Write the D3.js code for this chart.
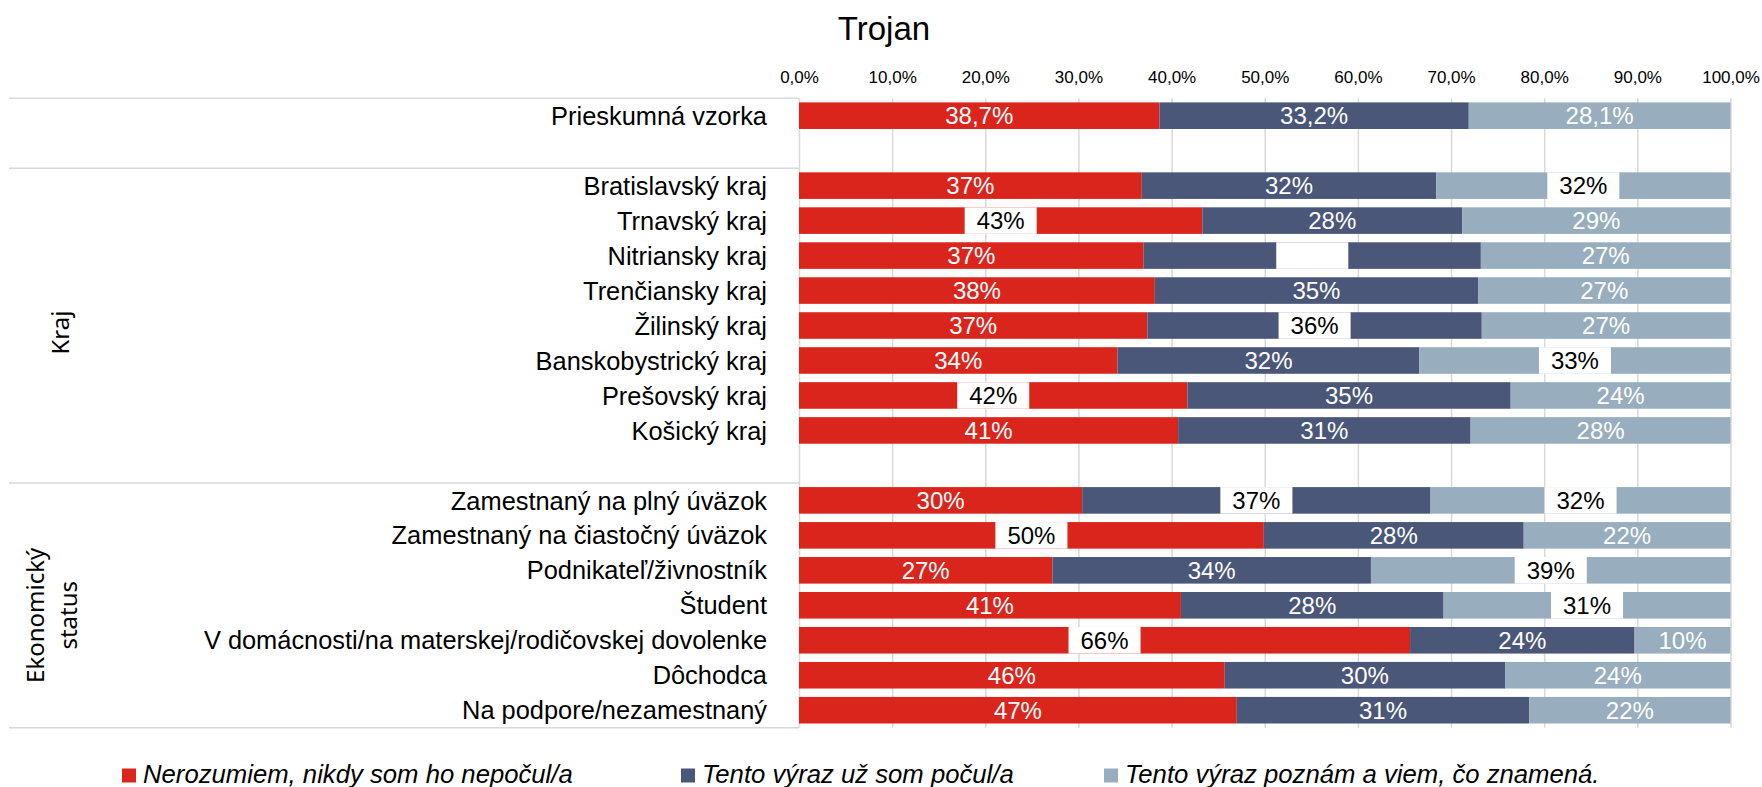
<!DOCTYPE html>
<html>
<head>
<meta charset="utf-8">
<script src="https://cdn.jsdelivr.net/npm/d3@7"></script>
<style>
  html, body { margin: 0; padding: 0; background: #fff; }
  svg { display: block; }
</style>
</head>
<body>
<svg id="chart" width="1762" height="787"></svg>
<script>
// ---- data ----
const title = "Trojan";

const categories = [
  "Prieskumná vzorka",
  "",
  "Bratislavský kraj",
  "Trnavský kraj",
  "Nitriansky kraj",
  "Trenčiansky kraj",
  "Žilinský kraj",
  "Banskobystrický kraj",
  "Prešovský kraj",
  "Košický kraj",
  "",
  "Zamestnaný na plný úväzok",
  "Zamestnaný na čiastočný úväzok",
  "Podnikateľ/živnostník",
  "Študent",
  "V domácnosti/na materskej/rodičovskej dovolenke",
  "Dôchodca",
  "Na podpore/nezamestnaný"
];

// outer level of the category axis: label lines and number of rows covered
const groupLabels = [[], ["Kraj"], ["Ekonomický", "status"]];
const groupSizes = [2, 9, 7];

const seriesNames = [
  "Nerozumiem, nikdy som ho nepočul/a",
  "Tento výraz už som počul/a",
  "Tento výraz poznám a viem, čo znamená."
];

// shares in %, null = spacer row
const neverHeard = [38.7, null, 36.8, 43.3, 37.0, 38.2, 37.4, 34.2, 41.7, 40.7, null, 30.4, 49.9, 27.2, 41.0, 65.6, 45.7, 47.0];
const heardOf    = [33.2, null, 31.6, 27.9, 36.2, 34.7, 35.9, 32.4, 34.7, 31.4, null, 37.4, 27.9, 34.2, 28.2, 24.1, 30.1, 31.4];
const knowIt     = [28.1, null, 31.6, 28.8, 26.8, 27.1, 26.7, 33.4, 23.6, 27.9, null, 32.2, 22.2, 38.6, 30.8, 10.3, 24.2, 21.6];

const xTicks = [0, 10, 20, 30, 40, 50, 60, 70, 80, 90, 100];

// labels set on a white box: [row, series]
const boxedLabels = [
  [2, 2], [3, 0], [4, 1], [6, 1], [7, 2], [8, 0],
  [11, 1], [11, 2], [12, 0], [13, 2], [14, 2], [15, 0]
];
// boxed labels whose text is white on the box
const blankedLabels = [[4, 1]];

// ---- setup ----
const colors = ["#DA251D", "#4A5779", "#98AEBE"];
const gridColor = "#D9D9D9";
const labelFont = "'Liberation Sans', Arial, sans-serif";
const groupFont = "'Noto Sans', 'Open Sans', sans-serif";

const svg = d3.select("#chart");

const plot = { left: 799, right: 1730.5, top: 98.2, bottom: 727.7 };

const x = d3.scaleLinear().domain([0, 100]).range([plot.left, plot.right]);
const y = d3.scaleBand()
  .domain(d3.range(categories.length))
  .range([plot.top, plot.bottom])
  .paddingInner(0.24)
  .paddingOuter(0.12);

const step = y.step();
const rowTop = i => y(i) - step * 0.12;   // boundary above row i

const locale = d3.formatLocale({ decimal: ",", thousands: "\u00a0", grouping: [3], currency: ["", " €"] });
const fmt1 = locale.format(".1f");
const fmt0 = locale.format(".0f");

// ---- title ----
svg.append("text")
  .attr("x", 884).attr("y", 40)
  .attr("text-anchor", "middle")
  .attr("font-family", labelFont)
  .attr("font-size", 33)
  .attr("fill", "#000")
  .text(title);

// ---- gridlines ----
const grid = svg.append("g")
  .attr("transform", `translate(0,${plot.top})`)
  .call(d3.axisBottom(x).tickValues(xTicks).tickSize(plot.bottom - plot.top).tickFormat(""));
grid.select(".domain").remove();
grid.selectAll(".tick line").attr("stroke", gridColor).attr("stroke-width", 1.5);

// ---- top axis labels ----
const xAxis = svg.append("g")
  .attr("transform", `translate(0,83)`)
  .call(d3.axisTop(x).tickValues(xTicks).tickSize(0).tickPadding(0)
    .tickFormat(d => fmt1(d) + "%"));
xAxis.select(".domain").remove();
xAxis.selectAll("text")
  .attr("font-family", labelFont)
  .attr("font-size", 17)
  .attr("fill", "#000");

// ---- category axis: group separators ----
let start = 0;
const boundaries = [rowTop(0)];
const groupSpans = [];
groupSizes.forEach(n => {
  groupSpans.push([start, start + n]);
  start += n;
  boundaries.push(start < categories.length ? rowTop(start) : plot.bottom);
});

svg.append("g").selectAll("line")
  .data(boundaries)
  .join("line")
  .attr("x1", 9).attr("x2", plot.left)
  .attr("y1", d => d).attr("y2", d => d)
  .attr("stroke", gridColor).attr("stroke-width", 1.5);

// group labels, rotated; multi-line labels sit a little further right
const groupG = svg.append("g");
groupLabels.forEach((lines, gi) => {
  if (!lines.length) return;
  const [a, b] = groupSpans[gi];
  const top = rowTop(a);
  const bottom = b < categories.length ? rowTop(b) : plot.bottom;
  const cy = (top + bottom) / 2 + (lines.length > 1 ? 10 : 7);
  const lastBaseline = lines.length > 1 ? 77 : 69;
  lines.forEach((line, li) => {
    const bx = lastBaseline - 33 * (lines.length - 1 - li);
    groupG.append("text")
      .attr("transform", `translate(${bx},${cy}) rotate(-90)`)
      .attr("text-anchor", "middle")
      .attr("font-family", groupFont)
      .attr("font-size", 24)
      .attr("fill", "#000")
      .text(line);
  });
});

// category labels
svg.append("g").selectAll("text")
  .data(categories.map((c, i) => ({ c, i })).filter(d => d.c))
  .join("text")
  .attr("x", 767)
  .attr("y", d => y(d.i) + y.bandwidth() / 2)
  .attr("dy", "0.36em")
  .attr("text-anchor", "end")
  .attr("font-family", labelFont)
  .attr("font-size", 25.4)
  .attr("fill", "#000")
  .text(d => d.c);

// ---- stacked bars ----
const table = categories.map((c, i) => ({
  row: i, s0: neverHeard[i], s1: heardOf[i], s2: knowIt[i]
})).filter(d => d.s0 != null);

const stack = d3.stack().keys(["s0", "s1", "s2"]);
const layers = stack(table);

const bars = svg.append("g");
layers.forEach((layer, si) => {
  bars.append("g").attr("fill", colors[si])
    .selectAll("rect")
    .data(layer)
    .join("rect")
    .attr("x", d => x(d[0]))
    .attr("width", d => x(d[1]) - x(d[0]))
    .attr("y", d => y(d.data.row))
    .attr("height", y.bandwidth());
});

// ---- data labels ----
const isIn = (list, r, s) => list.some(p => p[0] === r && p[1] === s);
const labels = svg.append("g");
layers.forEach((layer, si) => {
  layer.forEach(d => {
    const r = d.data.row;
    const v = d[1] - d[0];
    const txt = (r === 0 ? fmt1(v) : fmt0(v)) + "%";
    const cx = (x(d[0]) + x(d[1])) / 2;
    const cy = y(r) + y.bandwidth() / 2;
    const boxed = isIn(boxedLabels, r, si);
    const g = labels.append("g");
    const t = g.append("text")
      .attr("x", cx).attr("y", cy).attr("dy", "0.36em")
      .attr("text-anchor", "middle")
      .attr("font-family", labelFont)
      .attr("font-size", 24)
      .attr("fill", boxed && !isIn(blankedLabels, r, si) ? "#000" : "#fff")
      .text(txt);
    if (boxed) {
      const w = t.node().getComputedTextLength() + 24;
      g.insert("rect", "text")
        .attr("x", cx - w / 2).attr("width", w)
        .attr("y", y(r)).attr("height", y.bandwidth())
        .attr("fill", "#fff");
    }
  });
});

// ---- legend ----
const legendX = [122, 681, 1104];
const legend = svg.append("g");
seriesNames.forEach((name, i) => {
  legend.append("rect")
    .attr("x", legendX[i]).attr("y", 768.5)
    .attr("width", 14).attr("height", 14)
    .attr("fill", colors[i]);
  legend.append("text")
    .attr("x", legendX[i] + 21).attr("y", 783)
    .attr("font-family", labelFont)
    .attr("font-style", "italic")
    .attr("font-size", 25.7)
    .attr("fill", "#000")
    .text(name);
});
</script>
</body>
</html>
